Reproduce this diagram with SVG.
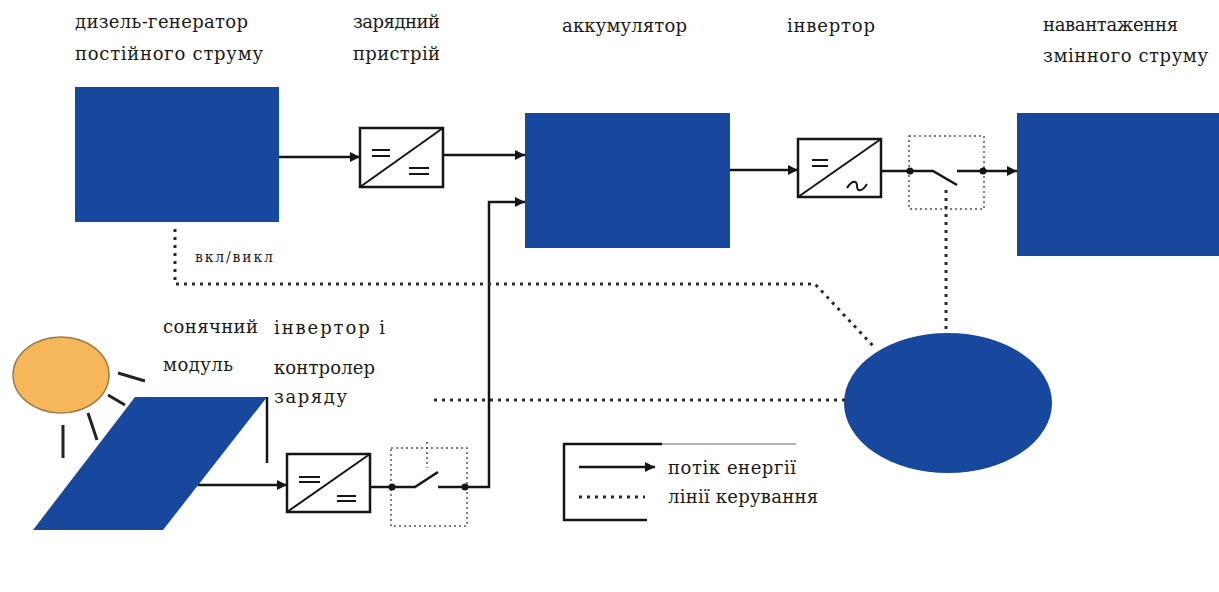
<svg xmlns="http://www.w3.org/2000/svg" width="1219" height="592" viewBox="0 0 1219 592">
  <style>
    .blk { fill: #17489e; }
    .lbl { font-family: "DejaVu Serif", "Liberation Serif", serif; font-size: 18px; fill: #1a1a1a; }
    .small { font-family: "DejaVu Serif", "Liberation Serif", serif; font-size: 14px; fill: #1a1a1a; }
    .flow { fill: none; stroke: #151515; stroke-width: 2.5; }
    .thin { fill: none; stroke: #151515; stroke-width: 2; }
    .ctrl { fill: none; stroke: #2a2a2a; stroke-width: 3; stroke-dasharray: 3 5; }
    .frame { fill: none; stroke: #555; stroke-width: 1.5; stroke-dasharray: 2 3; }
    .conv { fill: #fff; stroke: #151515; stroke-width: 2.5; }
    .dot { fill: #151515; }
  </style>
  <defs>
    <marker id="arr" viewBox="0 0 10 10" refX="10" refY="5" markerWidth="4" markerHeight="4" orient="auto" markerUnits="strokeWidth">
      <path d="M0,0 L10,5 L0,10 z" fill="#151515"/>
    </marker>
  </defs>
  <rect width="1219" height="592" fill="#fff"/>

  <!-- DC diesel generator -->
  <g id="diesel">
    <rect class="blk" x="75" y="87" width="204" height="135"/>
    <text class="lbl" x="75" y="28" textLength="173">дизель-генератор</text>
    <text class="lbl" x="75" y="60" textLength="188">постійного струму</text>
  </g>

  <!-- charger -->
  <g id="charger">
    <rect class="conv" x="360" y="128" width="83" height="59"/>
    <line class="thin" x1="360" y1="187" x2="443" y2="128"/>
    <path class="thin" d="M372,150 H390 M372,156 H390 M409,168 H429 M409,174 H429"/>
    <text class="lbl" x="353" y="28" textLength="87">зарядний</text>
    <text class="lbl" x="353" y="60" textLength="87">пристрій</text>
  </g>

  <!-- battery -->
  <g id="battery">
    <rect class="blk" x="525" y="113" width="205" height="135"/>
    <text class="lbl" x="562" y="32" textLength="125">аккумулятор</text>
  </g>

  <!-- inverter -->
  <g id="inverter">
    <rect class="conv" x="798" y="139" width="83" height="58"/>
    <line class="thin" x1="798" y1="197" x2="881" y2="139"/>
    <path class="thin" d="M812,160 H828 M812,166 H828"/>
    <path class="thin" d="M847,188 C852,180 857,180 857,186 C857,192 862,192 867,184"/>
    <text class="lbl" x="787" y="32" textLength="88">інвертор</text>
  </g>

  <!-- load switch -->
  <g id="load-switch">
    <rect class="frame" x="909" y="136" width="75" height="73"/>
    <circle class="dot" cx="910" cy="171" r="3.5"/>
    <circle class="dot" cx="983" cy="171" r="3.5"/>
    <path class="flow" d="M910,171 H933 L957,185"/>
  </g>

  <!-- AC load -->
  <g id="load">
    <rect class="blk" x="1017" y="113" width="202" height="143"/>
    <text class="lbl" x="1043" y="31" textLength="135">навантаження</text>
    <text class="lbl" x="1043" y="62" textLength="165">змінного струму</text>
  </g>

  <!-- controller -->
  <g id="controller">
    <ellipse class="blk" cx="948" cy="403" rx="104" ry="70"/>
  </g>

  <!-- sun -->
  <g id="sun">
    <ellipse cx="61" cy="375" rx="48" ry="38" fill="#f6b65a" stroke="#9a7a4a" stroke-width="1.5"/>
    <path d="M118,373 L145,381 M108,395 L125,405 M88,413 L97,440 M63,425 L63,458" stroke="#222" stroke-width="3" fill="none"/>
  </g>

  <!-- PV module -->
  <g id="pv">
    <polygon class="blk" points="135,397 267,397 163,530 33,530"/>
    <line class="flow" x1="267" y1="397" x2="267" y2="463"/>
    <text class="lbl" x="163" y="333" textLength="95">сонячний</text>
    <text class="lbl" x="163" y="371" textLength="70">модуль</text>
  </g>

  <!-- PV inverter and charge controller -->
  <g id="pv-converter">
    <rect class="conv" x="287" y="454" width="83" height="58"/>
    <line class="thin" x1="287" y1="512" x2="370" y2="454"/>
    <path class="thin" d="M299,477 H320 M299,482 H320 M337,496 H356 M337,501 H356"/>
    <text class="lbl" x="274" y="334" textLength="111">інвертор і</text>
    <text class="lbl" x="274" y="374" textLength="101">контролер</text>
    <text class="lbl" x="274" y="403" textLength="73">заряду</text>
  </g>

  <!-- PV switch -->
  <g id="pv-switch">
    <rect class="frame" x="391" y="448" width="76" height="78"/>
    <circle class="dot" cx="392" cy="487" r="3.5"/>
    <circle class="dot" cx="465" cy="487" r="3.5"/>
    <path class="flow" d="M392,487 H415 L438,472"/>
  </g>

  <!-- legend -->
  <g id="legend">
    <path d="M662,444 H564 V520 H647" fill="none" stroke="#151515" stroke-width="2.5"/>
    <line x1="662" y1="444" x2="796" y2="444" stroke="#999" stroke-width="1.5"/>
    <line class="flow" x1="579" y1="467" x2="655" y2="467" marker-end="url(#arr)"/>
    <line class="ctrl" x1="579" y1="497" x2="645" y2="497" stroke-width="2.5"/>
    <text class="lbl" x="668" y="474" textLength="128">потік енергії</text>
    <text class="lbl" x="668" y="503" textLength="150">лінії керування</text>
  </g>

  <!-- power and control connections -->
  <g id="connectors">
    <line class="flow" x1="279" y1="157" x2="360" y2="157" marker-end="url(#arr)"/>
    <line class="flow" x1="443" y1="155" x2="525" y2="155" marker-end="url(#arr)"/>
    <line class="flow" x1="730" y1="170" x2="798" y2="170" marker-end="url(#arr)"/>
    <line class="flow" x1="881" y1="171" x2="910" y2="171"/>
    <line class="flow" x1="957" y1="171" x2="1017" y2="171" marker-end="url(#arr)"/>
    <line class="flow" x1="198" y1="485" x2="287" y2="485" marker-end="url(#arr)"/>
    <line class="flow" x1="370" y1="487" x2="392" y2="487"/>
    <path class="flow" d="M438,487 H489 V202 H525" marker-end="url(#arr)"/>

    <path class="ctrl" d="M175,229 V284 H815 L875,348"/>
    <line class="ctrl" x1="946" y1="190" x2="946" y2="333"/>
    <line class="ctrl" x1="845" y1="400" x2="430" y2="400"/>
    <line class="frame" x1="427" y1="442" x2="427" y2="468" stroke-width="2"/>
    <text class="small" x="195" y="262" textLength="78">вкл/викл</text>
  </g>
</svg>
